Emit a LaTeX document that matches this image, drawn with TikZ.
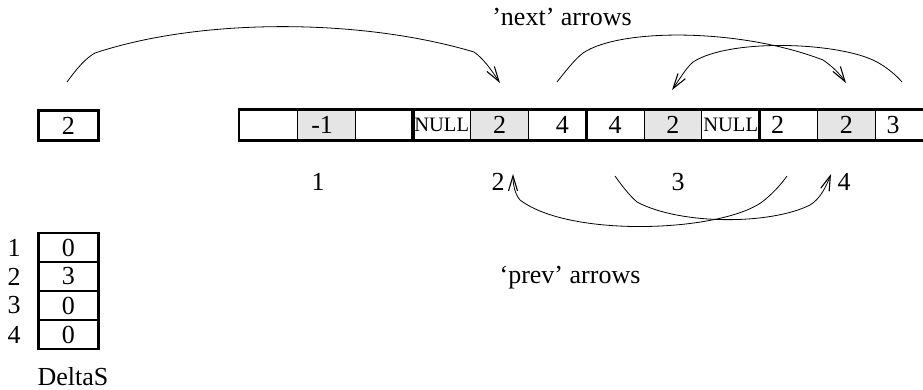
\documentclass[tikz,border=0pt]{standalone}
\usepackage{fontspec}
\setmainfont{Liberation Serif}
\usetikzlibrary{arrows.meta}
\definecolor{cellgray}{gray}{0.9}
\begin{document}
\begin{tikzpicture}[x=1pt,y=-1pt,
  cell/.style={draw, line width=0.8pt, minimum width=57.8pt, minimum height=30pt,
    inner sep=0pt, anchor=west, font=\fontsize{26}{30}\selectfont},
  shaded/.style={fill=cellgray},
  nulltxt/.style={font=\fontsize{20.5}{24}\selectfont},
  grp/.style={draw, line width=2.6pt},
  box/.style={draw, line width=2.6pt, minimum width=60pt, inner sep=0pt,
    anchor=west, font=\fontsize{26}{30}\selectfont},
  lbl/.style={font=\fontsize{26}{30}\selectfont, inner sep=0pt},
  curve/.style={line width=0.8pt,
    -{Straight Barb[length=15pt,width=9pt,line width=1.1pt]}},
  ]
\useasboundingbox (0,0) rectangle (923,389);

% linked list array
\node[cell] (c0) at (239,125) {};
\node[cell,shaded] (c1) at (296.8,125) {-1\hspace*{8pt}};
\node[cell] (c2) at (354.6,125) {};
\node[cell,nulltxt] (c3) at (412.4,125) {NULL};
\node[cell,shaded] (c4) at (470.2,125) {2};
\node[cell] (c5) at (528,125) {\hspace*{10pt}4};
\node[cell] (c6) at (585.8,125) {4};
\node[cell,shaded] (c7) at (643.6,125) {2};
\node[cell,nulltxt] (c8) at (701.4,125) {NULL};
\node[cell] (c9) at (759.2,125) {2\hspace*{22pt}};
\node[cell,shaded] (c10) at (817,125) {2};
\node[cell] (c11) at (874.8,125) {3\hspace*{22pt}};

\draw[grp] (c0.north west) rectangle (c2.south east);
\draw[grp] (c3.north west) rectangle (c5.south east);
\draw[grp] (c6.north west) rectangle (c8.south east);
\draw[grp] (c9.north west) rectangle (c11.south east);

% head box
\node[box, minimum height=30pt] (b0) at (37,125.5) {2};

% group labels
\node[lbl, anchor=base] (g1) at (318,190) {1};
\node[lbl, anchor=base] (g2) at (498,190) {2};
\node[lbl, anchor=base] (g3) at (678,190) {3};
\node[lbl, anchor=base] (g4) at (844,190) {4};

% captions
\node[lbl, anchor=base] (nextlbl) at (562,25) {’next’ arrows};
\node[lbl, anchor=base] (prevlbl) at (570,283) {‘prev’ arrows};

% DeltaS
\node[box, minimum height=29pt] (d1) at (37,247.5) {0};
\node[box, minimum height=29pt] (d2) at (37,276.5) {3};
\node[box, minimum height=29pt] (d3) at (37,305.5) {0};
\node[box, minimum height=29pt] (d4) at (37,334.5) {0};
\node[lbl] (r1) at (14,247.5) {1};
\node[lbl] (r2) at (14,276.5) {2};
\node[lbl] (r3) at (14,305.5) {3};
\node[lbl] (r4) at (14,334.5) {4};
\node[lbl, anchor=base] (dlbl) at (73,385) {DeltaS};

% arrow end points
\coordinate (n1s) at (67,82);
\coordinate (n1t) at (500,83);
\coordinate (n2s) at (557,82);
\coordinate (n2t) at (846,83);
\coordinate (n3s) at (902,82);
\coordinate (n3t) at (672,90);
\coordinate (p4s) at (615,176);
\coordinate (p4t) at (831,174);
\coordinate (p5s) at (787,176);
\coordinate (p5t) at (513,174);

% 'next' arrows
\draw[curve] (n1s) .. controls (78,67) and (86,58) .. (95,53)
  .. controls (200,18) and (360,18) .. (474,52)
  .. controls (484,59) and (492,71) .. (n1t);
\draw[curve] (n2s) .. controls (565,72) and (574,60) .. (583,53)
  .. controls (620,28) and (740,28) .. (823,60)
  .. controls (832,66) and (840,74) .. (n2t);
\draw[curve] (n3s) .. controls (895,74) and (886,67) .. (877,62)
  .. controls (840,42) and (730,38) .. (693,62)
  .. controls (686,68) and (679,80) .. (n3t);

% 'prev' arrows
\draw[curve] (p4s) .. controls (622,186) and (630,196) .. (637,202)
  .. controls (680,225) and (770,225) .. (810,205)
  .. controls (820,199) and (826,187) .. (p4t);
\draw[curve] (p5s) .. controls (780,186) and (770,196) .. (762,202)
  .. controls (720,232) and (570,238) .. (520,200)
  .. controls (515,194) and (513,185) .. (p5t);
\end{tikzpicture}
\end{document}
